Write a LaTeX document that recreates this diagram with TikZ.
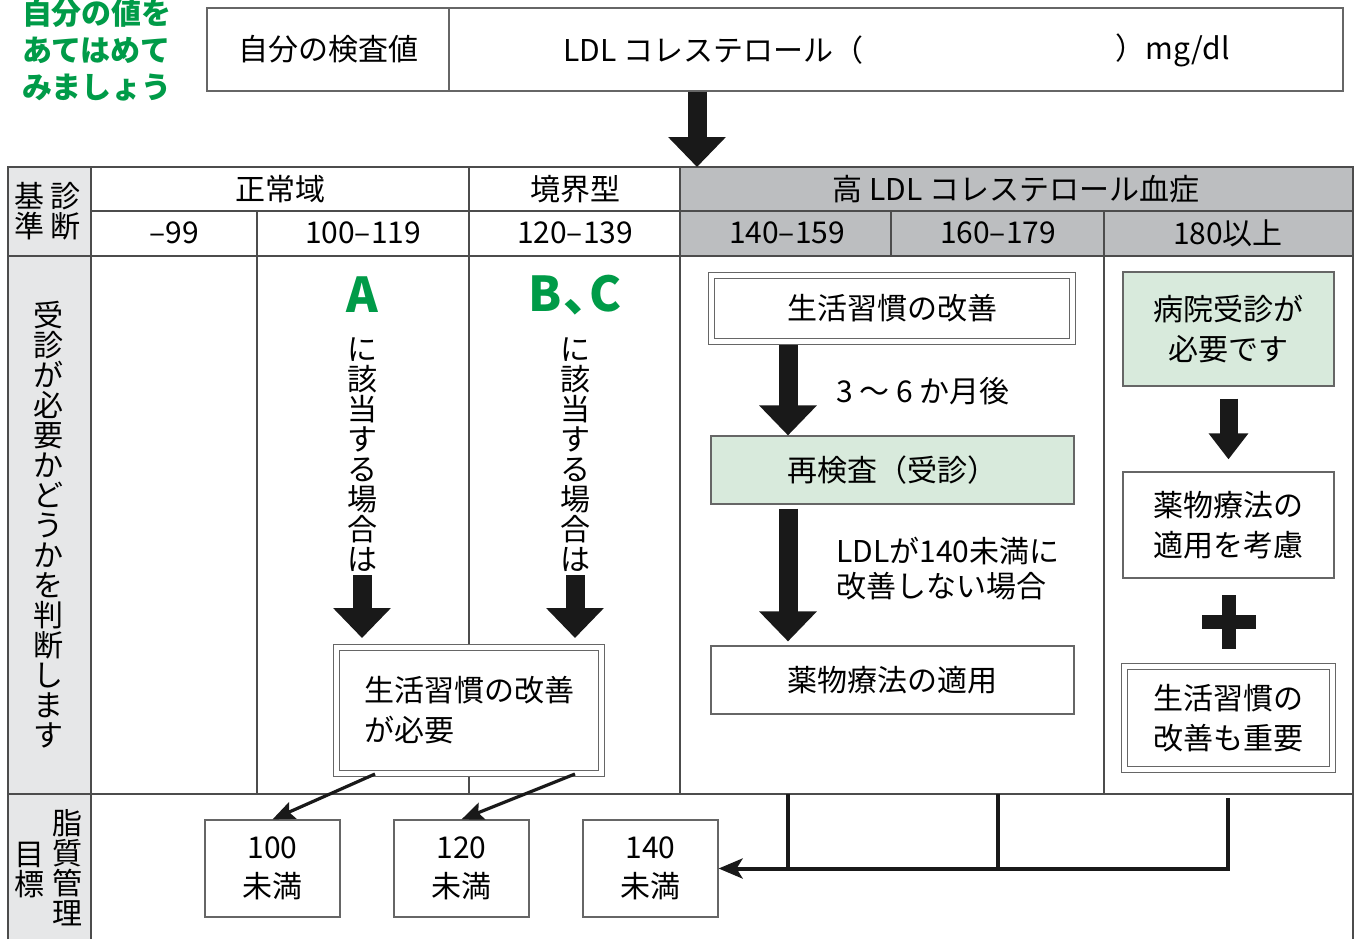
\documentclass[tikz,border=0pt]{standalone}
\usepackage{fontspec}
\setmainfont{Noto Sans CJK JP}
\usetikzlibrary{arrows.meta,calc}
\definecolor{markgreen}{RGB}{0,155,72}
\definecolor{paleGreen}{RGB}{216,234,220}
\definecolor{headGray}{RGB}{188,190,192}
\definecolor{sideGray}{RGB}{230,231,232}
\newcommand{\txt}{\fontsize{15}{20}\selectfont}
\newcommand{\vtxt}{\fontsize{15}{15}\selectfont}

\begin{document}
\begin{tikzpicture}[x=0.5pt,y=-0.5pt,
    grid/.style={draw=black!70, line width=0.8pt},
    cell/.style={font=\txt, inner sep=0pt},
    vtext/.style={font=\vtxt, align=center, inner sep=0pt},
    box/.style={draw=black!60, line width=0.6pt, fill=white, inner sep=0pt, font=\txt, align=center},
    greenbox/.style={box, fill=paleGreen},
    dblbox/.style={box, double=white, double distance=2.4pt, line width=0.5pt},
    blockarrow/.style={line width=9.5pt, black!90, -{Triangle[length=15pt,width=28pt]}},
    smallblock/.style={line width=9pt, black!90, -{Triangle[length=13pt,width=19pt]}},
    linkarrow/.style={line width=1.6pt, black!90, -{Stealth[length=11pt,width=9pt,inset=2pt]}},
    flowline/.style={line width=2pt, black!90}]
  \useasboundingbox (0,0) rectangle (1357,939);

  % top: own value
  \node[font=\bfseries\fontsize{15}{18.5}\selectfont, text=markgreen, align=left] (hint) at (97,50) {自分の値を\\あてはめて\\みましょう};
  \node[box, minimum width=121pt, minimum height=41.5pt] (self) at (328,49.5) {自分の検査値};
  \node[box, minimum width=447pt, minimum height=41.5pt] (ldl) at (896,49.5) {};
  \node[cell, anchor=west] (ldlname) at (563,50) {LDL コレステロール（};
  \node[cell, anchor=east] (ldlunit) at (1230,50) {）mg/dl};

  % table fills
  \fill[sideGray] (8,167) rectangle (91,939);
  \fill[headGray] (680,167) rectangle (1353,256);

  % table lines
  \draw[grid] (8,939) -- (8,167) -- (1353,167) -- (1353,939);
  \draw[grid] (91,211) -- (1353,211);
  \draw[grid] (8,256) -- (1353,256);
  \draw[grid] (8,794) -- (1353,794);
  \draw[grid] (91,167) -- (91,939);
  \draw[grid] (257,211) -- (257,794);
  \draw[grid] (469,167) -- (469,794);
  \draw[grid] (680,167) -- (680,794);
  \draw[grid] (891,211) -- (891,256);
  \draw[grid] (1104,211) -- (1104,794);

  % arrow into the table
  \coordinate (tbltop) at (697,167);
  \draw[blockarrow] (tbltop |- ldl.south) -- (tbltop);

  % header
  \node[font=\vtxt, align=center] (crit) at (48,211) {基\hspace{3pt}診\\準\hspace{3pt}断};
  \node[cell] (hNormal) at (280,189) {正常域};
  \node[cell] (hBorder) at (575,189) {境界型};
  \node[cell] (hHigh) at (1016,189) {高 LDL コレステロール血症};
  \node[cell] (r1) at (174,233) {–99};
  \node[cell] (r2) at (363,233) {100–119};
  \node[cell] (r3) at (575,233) {120–139};
  \node[cell] (r4) at (787,233) {140–159};
  \node[cell] (r5) at (998,233) {160–179};
  \node[cell] (r6) at (1228,233) {180以上};

  % left labels
  \node[vtext] (judge) at (48,525) {受\\診\\が\\必\\要\\か\\ど\\う\\か\\を\\判\\断\\し\\ま\\す};
  \node[vtext] (goalR) at (68,868) {脂\\質\\管\\理};
  \node[vtext] (goalL) at (30,870) {目\\標};

  % A and B,C
  \node[font=\bfseries\fontsize{24}{24}\selectfont, text=markgreen] (markA) at (362,295) {A};
  \node[font=\bfseries\fontsize{24}{24}\selectfont, text=markgreen] (markBC) at (575,295) {B\kern1pt、\kern-11pt C};
  \node[vtext] (textA) at (362,455) {に\\該\\当\\す\\る\\場\\合\\は};
  \node[vtext] (textBC) at (575,455) {に\\該\\当\\す\\る\\場\\合\\は};
  \node[dblbox, align=left, minimum width=132.5pt, minimum height=63pt] (needbox) at (469,710.5) {生活習慣の改善\\が必要};
  \draw[blockarrow, shorten <=1.5pt, shorten >=4.5pt] (textA.south) -- (textA.south |- needbox.north);
  \draw[blockarrow, shorten <=1.5pt, shorten >=4.5pt] (textBC.south) -- (textBC.south |- needbox.north);

  % high LDL, 140-179
  \coordinate (midx) at (788,0);
  \node[dblbox, minimum width=180.5pt, minimum height=33pt] (life1) at (892,308.5) {生活習慣の改善};
  \node[greenbox, minimum width=181.5pt, minimum height=34pt] (recheck) at (892.5,470) {再検査（受診）};
  \node[box, minimum width=181.5pt, minimum height=34pt] (drug) at (892.5,680) {薬物療法の適用};
  \draw[blockarrow, shorten <=1.5pt] (life1.south -| midx) -- (recheck.north -| midx);
  \draw[blockarrow, shorten <=2pt, shorten >=2pt] (recheck.south -| midx) -- (drug.north -| midx);
  \node[cell, anchor=west] (after) at (836,391) {3 ～ 6 か月後};
  \node[cell, anchor=west, align=left, font=\fontsize{15}{17.5}\selectfont] (notgood) at (836,569) {LDLが140未満に\\改善しない場合};

  % 180 and over
  \node[greenbox, minimum width=105.5pt, minimum height=57pt] (hosp) at (1228.5,329) {病院受診が\\必要です};
  \node[box, minimum width=105.5pt, minimum height=53pt] (drugR) at (1228.5,525) {薬物療法の\\適用を考慮};
  \node[dblbox, minimum width=104pt, minimum height=51.5pt] (lifeR) at (1228.5,718) {生活習慣の\\改善も重要};
  \draw[smallblock, shorten <=6pt, shorten >=6pt] (hosp.south) -- (drugR.north);
  \draw[black!90, line width=7pt] (1202,622) -- (1256,622) (1229,595) -- (1229,649);

  % targets
  \node[box, minimum width=67.5pt, minimum height=48.5pt, font=\fontsize{15}{19.5}\selectfont] (box100) at (272.5,868.5) {100\\未満};
  \node[box, minimum width=67.5pt, minimum height=48.5pt, font=\fontsize{15}{19.5}\selectfont] (box120) at (461.5,868.5) {120\\未満};
  \node[box, minimum width=67.5pt, minimum height=48.5pt, font=\fontsize{15}{19.5}\selectfont] (box140) at (650.5,868.5) {140\\未満};
  \draw[linkarrow] ($(needbox.south west)+(39,0)$) -- (box100.north);
  \draw[linkarrow] ($(needbox.south west)+(239,0)$) -- (box120.north);
  \coordinate (c140) at (788,794);
  \coordinate (c160) at (998,794);
  \coordinate (c180) at (1228,798);
  \draw[flowline] (c140) -- (c140 |- box140.east);
  \draw[flowline] (c160) -- (c160 |- box140.east);
  \draw[flowline, -{Stealth[length=12pt,width=10pt,inset=3pt]}] (c180) |- (box140.east);
\end{tikzpicture}
\end{document}
